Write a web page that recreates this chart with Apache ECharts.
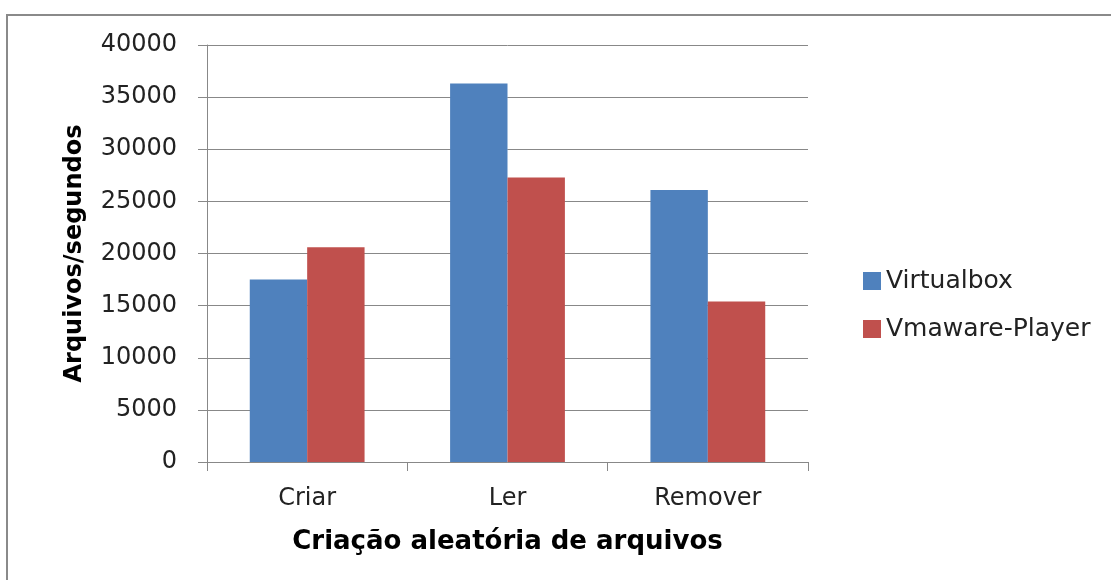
<!DOCTYPE html>
<html>
<head>
<meta charset="utf-8">
<script src="https://cdn.jsdelivr.net/npm/echarts@6/dist/echarts.min.js"></script>
<style>html,body{margin:0;padding:0;background:#fff}#c{width:1111px;height:580px}</style>
</head>
<body>
<div id="c"></div>
<script>
var categories = ['Criar', 'Ler', 'Remover'];
var virtualbox = [17500, 36300, 26100];
var vmwarePlayer = [20600, 27300, 15400];
var seriesNames = ['Virtualbox', 'Vmaware-Player'];
var yAxisTitle = 'Arquivos/segundos';
var xAxisTitle = 'Criação aleatória de arquivos';

var chart = echarts.init(document.getElementById('c'), null, {renderer: 'canvas'});
var font = 'DejaVu Sans';
chart.setOption({
  animation: false,
  backgroundColor: '#ffffff',
  graphic: [{
    type: 'polyline', silent: true, z: -10,
    shape: {points: [[7, 600], [7, 15], [1130, 15]]},
    style: {fill: 'none', stroke: '#8a8a8a', lineWidth: 2}
  }],
  grid: {left: 207, right: 303, top: 45, bottom: 118, containLabel: false},
  legend: {
    orient: 'vertical', left: 858, top: 262,
    itemWidth: 18, itemHeight: 18, itemGap: 20,
    icon: 'rect',
    textStyle: {fontFamily: font, fontSize: 25, color: '#222', lineHeight: 28},
    data: seriesNames
  },
  xAxis: {
    type: 'category', data: categories,
    name: xAxisTitle, nameLocation: 'middle', nameGap: 67,
    nameTextStyle: {fontFamily: font, fontSize: 26, fontWeight: 'bold', color: '#000'},
    axisLine: {lineStyle: {color: '#888', width: 1}},
    axisTick: {show: true, length: 9, inside: false, lineStyle: {color: '#888'}},
    axisLabel: {fontFamily: font, fontSize: 24, color: '#222', margin: 25},
    splitLine: {show: false}
  },
  yAxis: {
    type: 'value', min: 0, max: 40000, interval: 5000,
    name: yAxisTitle, nameLocation: 'middle', nameGap: 120, nameRotate: 90,
    nameTextStyle: {fontFamily: font, fontSize: 24, fontWeight: 'bold', color: '#000'},
    axisLine: {show: true, lineStyle: {color: '#888', width: 1}},
    axisTick: {show: true, length: 9, lineStyle: {color: '#888'}},
    axisLabel: {fontFamily: font, fontSize: 24, color: '#222', margin: 30,
      formatter: function (v) { return String(v); }},
    splitLine: {show: true, lineStyle: {color: '#888', width: 1}}
  },
  series: [
    {name: seriesNames[0], type: 'bar', data: virtualbox, barWidth: 57.4, barGap: '0%',
     itemStyle: {color: '#4F81BD'}},
    {name: seriesNames[1], type: 'bar', data: vmwarePlayer, barWidth: 57.4, barGap: '0%',
     itemStyle: {color: '#C0504D'}}
  ]
});
</script>
</body>
</html>
